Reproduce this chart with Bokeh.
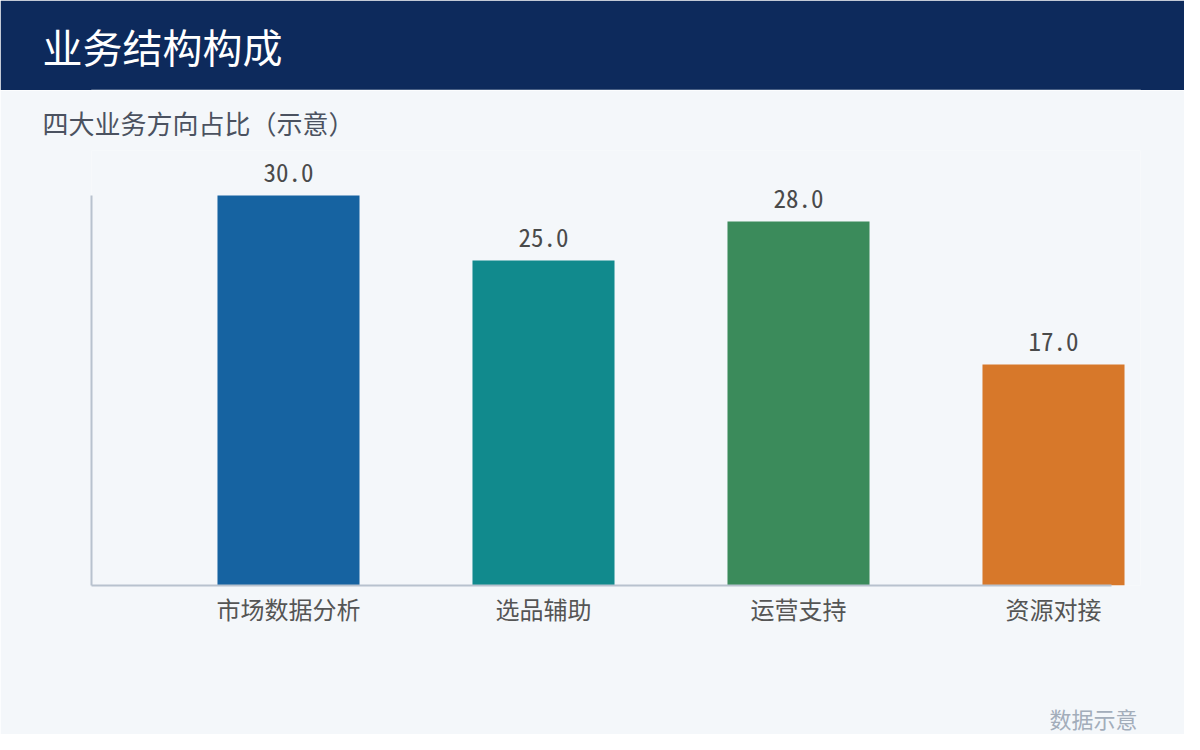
from bokeh.plotting import figure
from bokeh.models import LabelSet, ColumnDataSource, Range1d, FixedTicker, Title
from bokeh.core.properties import value
from bokeh.layouts import column
from bokeh.embed import file_html
from bokeh.resources import INLINE

# ---- data ----
categories = ["市场数据分析", "选品辅助", "运营支持", "资源对接"]
values = [30.0, 25.0, 28.0, 17.0]
colors = ["#1663a1", "#118a8d", "#3b8b5b", "#d7782a"]
value_labels = [f"{v:.1f}" for v in values]

title_text = "业务结构构成"
subtitle_text = "四大业务方向占比（示意）"
footnote_text = "数据示意"

FONT = "Noto Sans CJK SC"
MONO = "Noto Sans Mono CJK SC, Noto Sans CJK SC"
W = 1184
PAGE_H = 734
HEADER_H = 90
MAIN_H = PAGE_H - HEADER_H
BG = "#f4f7fa"
NAVY = "#0d2a5c"

# frame geometry (page px)
FL, FR = 91, 1140
FT, FB = 150, 585
px_per_unit = 255.0
first_center_px = 288
x_start = -(first_center_px - FL) / px_per_unit
x_end = x_start + (FR - FL) / px_per_unit
x_axis_end = x_start + (1111 - FL) / px_per_unit
ymax = max(values)
y_end = ymax * (FB - FT) / (585 - 195)

# ---- header ----
header = figure(width=W, height=HEADER_H, output_backend="svg", toolbar_location=None,
                x_range=Range1d(0, 1), y_range=Range1d(0, 1),
                min_border_left=FL, min_border_right=W - FR,
                min_border_top=0, min_border_bottom=0)
header.axis.visible = False
header.grid.visible = False
header.outline_line_color = None
header.background_fill_color = NAVY
header.border_fill_color = NAVY
header.title.text = title_text
header.title.text_font = FONT
header.title.text_font_size = "40px"
header.title.text_font_style = "normal"
header.title.text_color = "white"
header.title.align = "left"
header.title.offset = 42 - FL
header.title.standoff = 29

# ---- main chart ----
p = figure(width=W, height=MAIN_H, output_backend="svg", toolbar_location=None,
           x_range=Range1d(x_start, x_end), y_range=Range1d(0, y_end),
           min_border_left=FL, min_border_right=W - FR,
           min_border_top=FT - HEADER_H, min_border_bottom=PAGE_H - FB)
p.background_fill_color = BG
p.border_fill_color = BG
p.outline_line_color = None
p.grid.visible = False

p.title.text = subtitle_text
p.title.text_font = FONT
p.title.text_font_size = "26px"
p.title.text_font_style = "normal"
p.title.text_color = "#4b5260"
p.title.align = "left"
p.title.offset = 42 - FL
p.title.standoff = 20

xs = list(range(len(categories)))
src = ColumnDataSource(dict(x=xs, top=values, color=colors, lab=value_labels))
p.vbar(x="x", top="top", bottom=0, width=0.557, color="color", line_color=None, source=src)

p.add_layout(LabelSet(x="x", y="top", text="lab", source=src, y_offset=14,
                      text_align="center", text_baseline="alphabetic",
                      text_font=value(MONO), text_font_size=value("25px"),
                      text_color=value("#4a4a4a")))

axis_color = "#b8c2ce"
p.xaxis.ticker = FixedTicker(ticks=xs)
p.xaxis.major_label_overrides = {i: c for i, c in zip(xs, categories)}
p.xaxis.bounds = (x_start, x_axis_end)
p.xaxis.axis_line_color = axis_color
p.xaxis.axis_line_width = 2
p.xaxis.major_tick_line_color = None
p.xaxis.minor_tick_line_color = None
p.xaxis.major_tick_in = 0
p.xaxis.major_tick_out = 0
p.xaxis.major_label_standoff = 5
p.xaxis.major_label_text_font = FONT
p.xaxis.major_label_text_font_size = "24px"
p.xaxis.major_label_text_color = "#555555"

p.yaxis.ticker = FixedTicker(ticks=[])
p.yaxis.bounds = (0, ymax)
p.yaxis.axis_line_color = axis_color
p.yaxis.axis_line_width = 2
p.yaxis.major_tick_line_color = None
p.yaxis.minor_tick_line_color = None
p.yaxis.major_tick_in = 0
p.yaxis.major_tick_out = 0

# spacer + footnote below the axis
spacer = Title(text=" ", standoff=54, text_font=FONT, text_font_size="10px",
               text_color=BG)
foot = Title(text=footnote_text, align="right", offset=FR - 1137, standoff=0,
             vertical_align="bottom",
             text_font=FONT, text_font_size="22px", text_font_style="normal",
             text_color="#a3adba")
p.add_layout(spacer, "below")
p.add_layout(foot, "below")

layout = column(header, p)
open("out.html", "w").write(file_html(layout, INLINE))
